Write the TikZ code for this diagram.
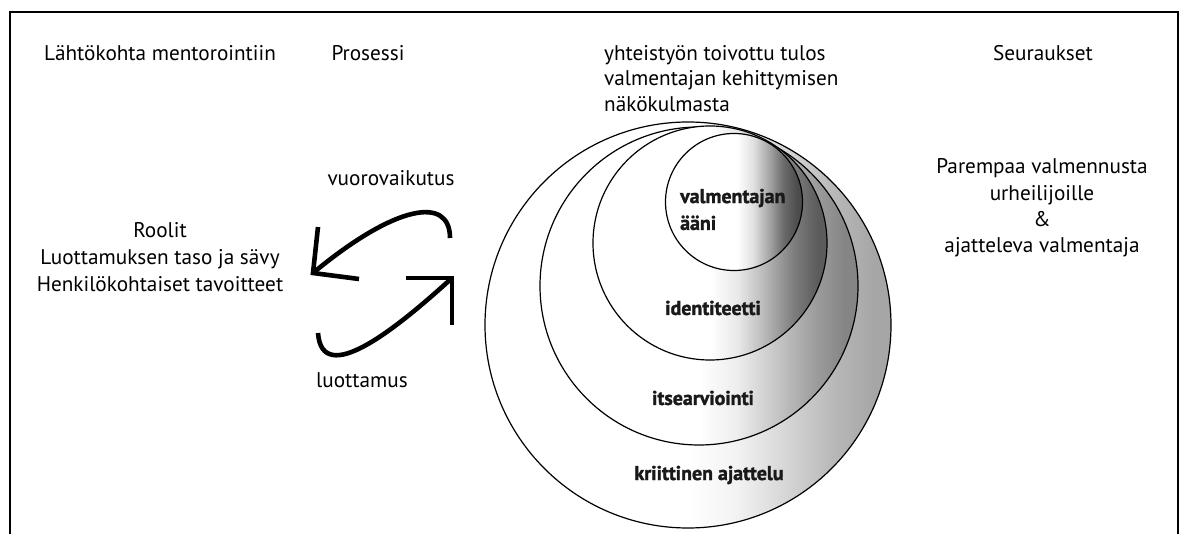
\documentclass[tikz,border=0pt]{standalone}
\usepackage{fontspec}
\setmainfont{PT Sans}
\newfontfamily\ringfont[BoldFeatures={FakeBold=1.6}]{PT Sans}

% Horizontal fills: white on the left, turning grey towards the right edge
\pgfdeclarehorizontalshading{ringouter}{100bp}{color(0bp)=(white); color(50bp)=(white); color(56bp)=(black!5); color(62bp)=(black!16); color(68bp)=(black!28); color(73bp)=(black!35); color(100bp)=(black!35)}
\pgfdeclarehorizontalshading{ringsecond}{100bp}{color(0bp)=(white); color(50bp)=(white); color(56bp)=(black!7); color(62bp)=(black!22); color(68bp)=(black!38); color(73bp)=(black!48); color(100bp)=(black!48)}
\pgfdeclarehorizontalshading{ringthird}{100bp}{color(0bp)=(white); color(50bp)=(white); color(56bp)=(black!9); color(62bp)=(black!29); color(68bp)=(black!51); color(73bp)=(black!64); color(100bp)=(black!64)}
\pgfdeclarehorizontalshading{ringinner}{100bp}{color(0bp)=(white); color(51bp)=(white); color(57bp)=(black!12); color(63bp)=(black!36); color(68bp)=(black!58); color(73bp)=(black!70); color(100bp)=(black!70)}

\tikzset{
  lbl/.style={font=\fontsize{21.3}{26.5}\selectfont, align=center, inner sep=0pt},
  ringlbl/.style={font=\ringfont\fontsize{20}{27}\selectfont\bfseries, text=black!90, inner sep=0pt},
  ring/.style={circle, draw=black, line width=1.2bp, shade, inner sep=0pt},
  swoosh/.style={line width=4.6bp, line cap=butt},
  barb/.style={line width=4.6bp, line cap=butt, line join=miter}
}

\begin{document}
\begin{tikzpicture}[x=1bp, y=-1bp]
\useasboundingbox (0,0) rectangle (1184,534);
\fill[white] (0,0) rectangle (1184,534);

% open frame (no bottom edge)
\draw[line width=2bp] (10,534) -- (10,12) -- (1178,12) -- (1178,534);

% column headings
\node[lbl] (hstart) at (160,53) {Lähtökohta mentorointiin};
\node[lbl] (hprocess) at (368,53) {Prosessi};
\node[lbl, align=left, anchor=north west, font=\fontsize{21.3}{25.5}\selectfont] (hresult) at (604,45)
  {yhteistyön toivottu tulos\\valmentajan kehittymisen\\näkökulmasta};
\node[lbl] (hconseq) at (1043,53) {Seuraukset};

% left column
\node[lbl, font=\fontsize{21.3}{27}\selectfont] (start) at (160,257)
  {Roolit\\Luottamuksen taso ja sävy\\Henkilökohtaiset tavoitteet};

% process labels
\node[lbl] (interact) at (391,178) {vuorovaikutus};
\node[lbl] (trust) at (362,380) {luottamus};

% right column
\node[lbl] (conseq) at (1042,208)
  {Parempaa valmennusta\\urheilijoille\\\&\\ajatteleva valmentaja};

% nested circles
\node[ring, shading=ringouter, minimum size=406bp] (cOuter) at (688,325) {};
\node[ring, shading=ringsecond, minimum size=318bp] (cSecond) at (699,286) {};
\node[ring, shading=ringthird, minimum size=234bp] (cThird) at (710,243) {};
\node[ring, shading=ringinner, minimum size=137bp] (cInner) at (734,202) {};

\node[ringlbl, align=left, anchor=west] (voice) at (680,209.5) {valmentajan\\ääni};
\node[ringlbl] (ident) at (713,308) {identiteetti};
\node[ringlbl] (selfev) at (703,398) {itsearviointi};
\node[ringlbl] (crit) at (709,475) {kriittinen ajattelu};

% circular pair of arrows
\coordinate (upStart) at (450,238);
\coordinate (upTip) at (313,273);
\coordinate (upArmA) at (318,227);
\coordinate (upArmB) at (359,279);
\coordinate (loStart) at (318,333);
\coordinate (loTip) at (452,278);
\coordinate (loArmA) at (406,278);
\coordinate (loArmB) at (452,325);

\draw[swoosh] (upStart) .. controls (450,195) and (395,205) .. (upTip);
\draw[barb] (upArmA) -- (upTip) -- (upArmB);
\draw[swoosh] (loStart) .. controls (322,388) and (395,330) .. (loTip);
\draw[barb] (loArmA) -- (loTip) -- (loArmB);
\end{tikzpicture}
\end{document}
